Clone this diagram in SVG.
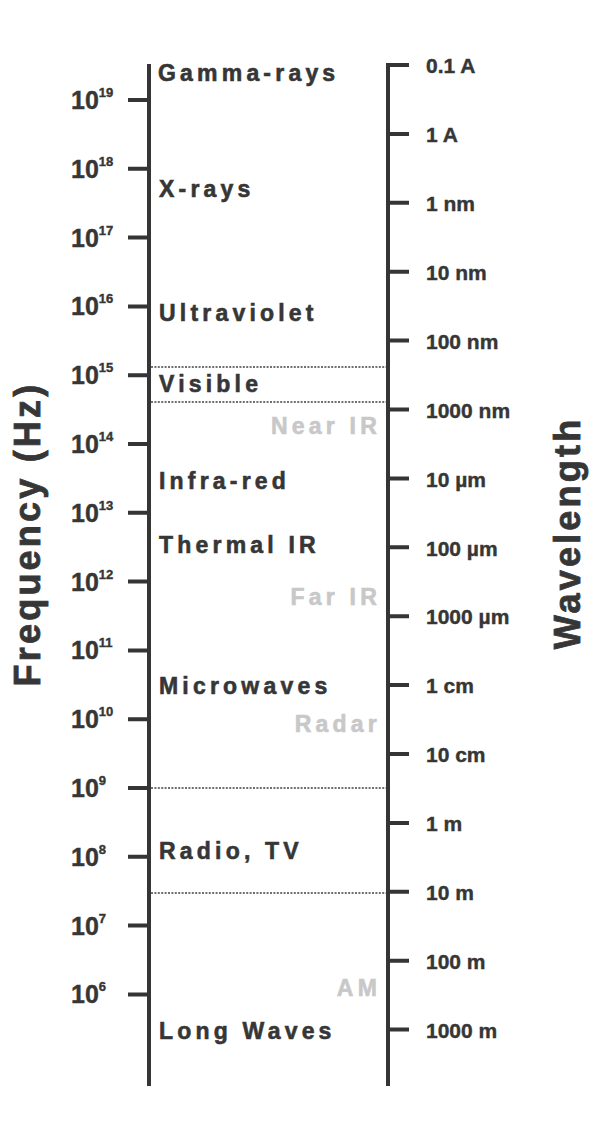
<svg xmlns="http://www.w3.org/2000/svg" width="602" height="1146" viewBox="0 0 602 1146">
<style>
.ax{stroke:#353535;stroke-width:4;fill:none}
.dot{stroke:#707070;stroke-width:2;stroke-dasharray:2 1.4;fill:none}
.lbl{font-family:"Liberation Sans",Arial,sans-serif;font-weight:bold;font-size:23px;letter-spacing:4.2px;fill:#363636;stroke:#363636;stroke-width:0.6px}
.gry{font-family:"Liberation Sans",Arial,sans-serif;font-weight:bold;font-size:23px;letter-spacing:4.2px;fill:#c8c8c8;stroke:#c8c8c8;stroke-width:0.6px;text-anchor:end}
.fq{font-family:"Liberation Sans",Arial,sans-serif;font-weight:bold;font-size:25px;fill:#363636;stroke:#363636;stroke-width:0.4px}
.sup{font-size:13px}
.wl{font-family:"Liberation Sans",Arial,sans-serif;font-weight:bold;font-size:21px;fill:#363636;stroke:#363636;stroke-width:0.4px}
.ttl{font-family:"Liberation Sans",Arial,sans-serif;font-weight:bold;font-size:36px;letter-spacing:3.2px;fill:#363636;stroke:#363636;stroke-width:0.8px;text-anchor:middle}
</style>
<rect width="602" height="1146" fill="#fff"/>
<g id="connectors">
<path class="ax" d="M149,64 V1086"/>
<path class="ax" d="M409,65 H388 V1086"/>
<path class="ax" d="M128,100H149M128,168.8H149M128,237.6H149M128,306.4H149M128,375.2H149M128,444H149M128,512.8H149M128,581.6H149M128,650.4H149M128,719.2H149M128,788H149M128,856.8H149M128,925.6H149M128,994.4H149"/>
<path class="ax" d="M388,133.9H409M388,202.8H409M388,271.7H409M388,340.6H409M388,409.5H409M388,478.4H409M388,547.3H409M388,616.2H409M388,685.1H409M388,754H409M388,822.9H409M388,891.8H409M388,960.7H409M388,1029.6H409"/>
<path class="dot" d="M151,367H386M151,402H386M151,788H386M151,893H386"/>
</g>
<g id="freq-labels">
<text class="fq" x="71" y="109">10<tspan class="sup" dy="-12">19</tspan></text>
<text class="fq" x="71" y="177.8">10<tspan class="sup" dy="-12">18</tspan></text>
<text class="fq" x="71" y="246.6">10<tspan class="sup" dy="-12">17</tspan></text>
<text class="fq" x="71" y="315.4">10<tspan class="sup" dy="-12">16</tspan></text>
<text class="fq" x="71" y="384.2">10<tspan class="sup" dy="-12">15</tspan></text>
<text class="fq" x="71" y="453">10<tspan class="sup" dy="-12">14</tspan></text>
<text class="fq" x="71" y="521.8">10<tspan class="sup" dy="-12">13</tspan></text>
<text class="fq" x="71" y="590.6">10<tspan class="sup" dy="-12">12</tspan></text>
<text class="fq" x="71" y="659.4">10<tspan class="sup" dy="-12">11</tspan></text>
<text class="fq" x="71" y="728.2">10<tspan class="sup" dy="-12">10</tspan></text>
<text class="fq" x="71" y="797">10<tspan class="sup" dy="-12">9</tspan></text>
<text class="fq" x="71" y="865.8">10<tspan class="sup" dy="-12">8</tspan></text>
<text class="fq" x="71" y="934.6">10<tspan class="sup" dy="-12">7</tspan></text>
<text class="fq" x="71" y="1003.4">10<tspan class="sup" dy="-12">6</tspan></text>
</g>
<g id="wave-labels">
<text class="wl" x="426" y="73">0.1 A</text>
<text class="wl" x="426" y="142">1 A</text>
<text class="wl" x="426" y="211">1 nm</text>
<text class="wl" x="426" y="280">10 nm</text>
<text class="wl" x="426" y="349">100 nm</text>
<text class="wl" x="426" y="418">1000 nm</text>
<text class="wl" x="426" y="487">10 µm</text>
<text class="wl" x="426" y="556">100 µm</text>
<text class="wl" x="426" y="624">1000 µm</text>
<text class="wl" x="426" y="693">1 cm</text>
<text class="wl" x="426" y="762">10 cm</text>
<text class="wl" x="426" y="831">1 m</text>
<text class="wl" x="426" y="900">10 m</text>
<text class="wl" x="426" y="969">100 m</text>
<text class="wl" x="426" y="1038">1000 m</text>
</g>
<g id="band-gamma"><text class="lbl" x="158" y="81">Gamma-rays</text></g>
<g id="band-xrays"><text class="lbl" x="159" y="197">X-rays</text></g>
<g id="band-uv"><text class="lbl" x="159" y="321">Ultraviolet</text></g>
<g id="band-visible"><text class="lbl" x="159" y="392">Visible</text></g>
<g id="band-nearir"><text class="gry" x="381" y="434">Near IR</text></g>
<g id="band-ir"><text class="lbl" x="159" y="489">Infra-red</text></g>
<g id="band-thermal"><text class="lbl" x="159" y="553">Thermal IR</text></g>
<g id="band-farir"><text class="gry" x="381" y="605">Far IR</text></g>
<g id="band-micro"><text class="lbl" x="159" y="694">Microwaves</text></g>
<g id="band-radar"><text class="gry" x="381" y="732">Radar</text></g>
<g id="band-radio"><text class="lbl" x="159" y="859">Radio, TV</text></g>
<g id="band-am"><text class="gry" x="381" y="996">AM</text></g>
<g id="band-long"><text class="lbl" x="159" y="1039">Long Waves</text></g>
<g id="titles">
<text class="ttl" transform="translate(40,534) rotate(-90)">Frequency (Hz)</text>
<text class="ttl" transform="translate(580,533) rotate(-90)">Wavelength</text>
</g>
</svg>
